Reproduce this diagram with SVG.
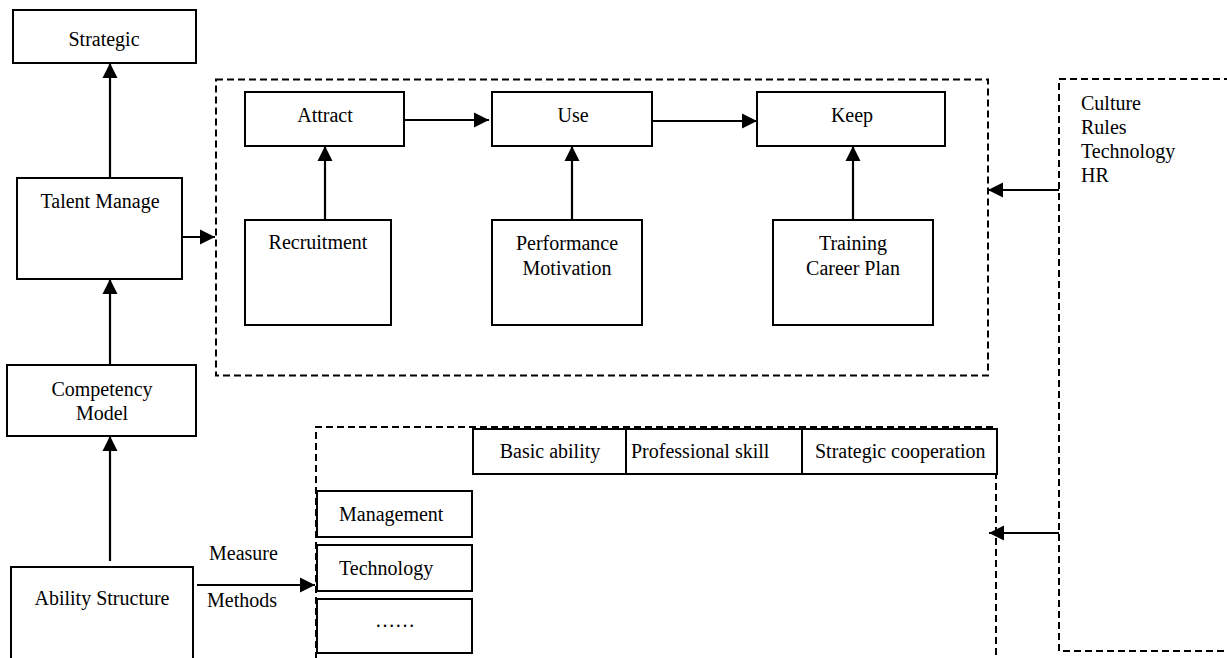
<svg xmlns="http://www.w3.org/2000/svg" width="1227" height="658" viewBox="0 0 1227 658">
<style>
.box{fill:#fff;stroke:#000;stroke-width:2}
.dash{fill:none;stroke:#000;stroke-width:2;stroke-dasharray:7 4}
.conn{fill:none;stroke:#000;stroke-width:2.2;marker-end:url(#ah)}
text{font-family:"Liberation Serif","Times New Roman",serif;font-size:20px;fill:#000}
.c{text-anchor:middle}
</style>
<defs>
<marker id="ah" markerUnits="userSpaceOnUse" markerWidth="16" markerHeight="16" refX="15" refY="8" orient="auto" viewBox="0 0 16 16">
<path d="M0,0.5 L15,8 L0,15.5 z" fill="#000"/>
</marker>
</defs>
<rect width="1227" height="658" fill="#fff"/>

<g id="frame-process"><rect class="dash" x="216" y="79.5" width="772" height="296"/></g>
<g id="frame-ability"><path class="dash" d="M316,670 V427 H996 V670"/></g>
<g id="frame-environment">
<rect class="dash" x="1059" y="79" width="220" height="572"/>
<text x="1081" y="110">Culture</text>
<text x="1081" y="134">Rules</text>
<text x="1081" y="158">Technology</text>
<text x="1081" y="182">HR</text>
</g>

<g id="strategic"><rect class="box" x="13" y="10" width="183" height="53"/><text class="c" x="104" y="46">Strategic</text></g>
<g id="talent"><rect class="box" x="17" y="178" width="165" height="101"/><text class="c" x="100" y="208">Talent Manage</text></g>
<g id="competency"><rect class="box" x="7" y="365" width="189" height="71"/><text class="c" x="102" y="396">Competency</text><text class="c" x="102" y="420">Model</text></g>
<g id="ability"><rect class="box" x="11" y="567" width="182" height="95"/><text class="c" x="102" y="605">Ability Structure</text></g>

<g id="attract"><rect class="box" x="245" y="92" width="159" height="54"/><text class="c" x="325" y="122">Attract</text></g>
<g id="use"><rect class="box" x="492" y="92" width="160" height="54"/><text class="c" x="573" y="122">Use</text></g>
<g id="keep"><rect class="box" x="757" y="92" width="188" height="54"/><text class="c" x="852" y="122">Keep</text></g>
<g id="recruitment"><rect class="box" x="245" y="220" width="146" height="105"/><text class="c" x="318" y="249">Recruitment</text></g>
<g id="performance"><rect class="box" x="492" y="220" width="150" height="105"/><text class="c" x="567" y="250">Performance</text><text class="c" x="567" y="275">Motivation</text></g>
<g id="training"><rect class="box" x="773" y="220" width="160" height="105"/><text class="c" x="853" y="250">Training</text><text class="c" x="853" y="275">Career Plan</text></g>

<g id="basic"><rect class="box" x="473" y="429" width="153" height="45"/><text class="c" x="550" y="458">Basic ability</text></g>
<g id="professional"><rect class="box" x="626" y="429" width="176" height="45"/><text x="631" y="458">Professional skill</text></g>
<g id="cooperation"><rect class="box" x="802" y="429" width="195" height="45"/><text x="815" y="458">Strategic cooperation</text></g>
<g id="management"><rect class="box" x="317" y="491" width="155" height="46"/><text x="339" y="521">Management</text></g>
<g id="technology"><rect class="box" x="317" y="545" width="155" height="46"/><text x="339" y="575">Technology</text></g>
<g id="etc"><rect class="box" x="317" y="599" width="155" height="54"/><text class="c" x="395" y="627">……</text></g>

<g id="connectors">
<line class="conn" x1="110" y1="178" x2="110" y2="63"/>
<line class="conn" x1="110" y1="365" x2="110" y2="279"/>
<line class="conn" x1="110" y1="561" x2="110" y2="436"/>
<line class="conn" x1="182" y1="237" x2="215" y2="237"/>
<line class="conn" x1="404" y1="120" x2="489" y2="120"/>
<line class="conn" x1="652" y1="121" x2="757" y2="121"/>
<line class="conn" x1="325" y1="220" x2="325" y2="146"/>
<line class="conn" x1="572" y1="220" x2="572" y2="146"/>
<line class="conn" x1="853" y1="220" x2="853" y2="146"/>
<line class="conn" x1="1059" y1="190" x2="988" y2="190"/>
<line class="conn" x1="1059" y1="533" x2="989" y2="533"/>
<line class="conn" x1="197" y1="585" x2="315" y2="585"/>
<text x="209" y="560">Measure</text>
<text x="207" y="607">Methods</text>
</g>
</svg>
